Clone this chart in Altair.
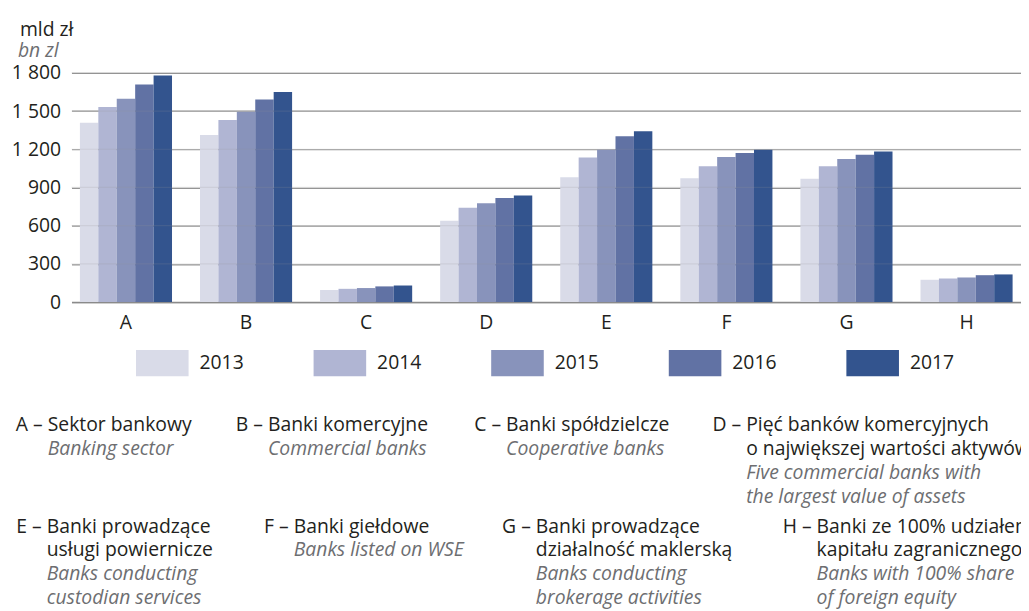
import altair as alt
import pandas as pd

# ---------------- data ----------------
categories = ["A", "B", "C", "D", "E", "F", "G", "H"]
years = ["2013", "2014", "2015", "2016", "2017"]
v2013 = [1408, 1312, 94, 639, 981, 973, 968, 175]
v2014 = [1532, 1429, 104, 741, 1135, 1067, 1067, 185]
v2015 = [1597, 1494, 110, 777, 1197, 1140, 1124, 193]
v2016 = [1709, 1590, 123, 817, 1302, 1171, 1156, 211]
v2017 = [1779, 1649, 130, 837, 1341, 1197, 1182, 217]
y_ticks = [0, 300, 600, 900, 1200, 1500, 1800]
colors = ["#d9dbe8", "#b0b5d3", "#8893bb", "#6172a4", "#33548e"]

unit_pl = "mld zł"
unit_en = "bn zl"

desc_letters = ["A –", "B –", "C –", "D –", "E –", "F –", "G –", "H –"]
desc_pl = [
    ["Sektor bankowy"],
    ["Banki komercyjne"],
    ["Banki spółdzielcze"],
    ["Pięć banków komercyjnych", "o największej wartości aktywów"],
    ["Banki prowadzące", "usługi powiernicze"],
    ["Banki giełdowe"],
    ["Banki prowadzące", "działalność maklerską"],
    ["Banki ze 100% udziałem", "kapitału zagranicznego"],
]
desc_en = [
    ["Banking sector"],
    ["Commercial banks"],
    ["Cooperative banks"],
    ["Five commercial banks with", "the largest value of assets"],
    ["Banks conducting", "custodian services"],
    ["Banks listed on WSE"],
    ["Banks conducting", "brokerage activities"],
    ["Banks with 100% share", "of foreign equity"],
]

# ---------------- layout (page pixels) ----------------
ORIGIN_X, ORIGIN_Y = 72, 70.7
desc_x = [48, 270, 510, 752, 47, 296, 540, 823]
desc_row_y = [426, 426, 426, 426, 528, 528, 528, 528]
LINE_H = 24
FONT = "Open Sans"
FS = 19.5
BLACK = "#231f20"
GREY = "#6d6e71"
GRID = "#959595"

# ---------------- tables ----------------
vals = [v2013, v2014, v2015, v2016, v2017]
rows = []
for yi, y in enumerate(years):
    for ci, c in enumerate(categories):
        rows.append({"category": c, "year": y, "value": vals[yi][ci]})
df = pd.DataFrame(rows)

pl_rows, en_rows, let_rows = [], [], []
for i in range(len(categories)):
    x = desc_x[i] - ORIGIN_X
    y0 = desc_row_y[i] - ORIGIN_Y
    let_rows.append({"t": desc_letters[i], "px": x - 5, "py": y0})
    k = 0
    for line in desc_pl[i]:
        pl_rows.append({"t": line, "px": x, "py": y0 + k * LINE_H})
        k += 1
    for line in desc_en[i]:
        en_rows.append({"t": line, "px": x, "py": y0 + k * LINE_H})
        k += 1
unit_rows = [{"t": unit_pl, "px": 20 - ORIGIN_X, "py": 28 - ORIGIN_Y}]
unit_rows2 = [{"t": unit_en, "px": 18 - ORIGIN_X, "py": 49 - ORIGIN_Y}]

# ---------------- chart ----------------
y_axis = alt.Axis(title=None, values=y_ticks, ticks=False, domain=False,
                  labelPadding=11, labelFontSize=FS, labelColor=BLACK,
                  labelFont=FONT,
                  labelExpr="replace(format(datum.value, ','), ',', ' ')",
                  gridColor=GRID, gridWidth=1.2)
y_scale = alt.Scale(domain=[0, 1800], nice=False)

bars = alt.Chart(df).mark_bar().encode(
    x=alt.X("category:N", sort=categories,
            scale=alt.Scale(paddingInner=0.233, paddingOuter=0.07),
            axis=alt.Axis(title=None, labelAngle=0, ticks=False, labelPadding=12,
                          labelFontSize=FS, labelColor=BLACK, labelFont=FONT,
                          domain=True, domainColor="#8a8a8a", domainWidth=1.5,
                          grid=False)),
    xOffset=alt.XOffset("year:N", sort=years,
                        scale=alt.Scale(paddingInner=0, paddingOuter=0)),
    y=alt.Y("value:Q", scale=y_scale, axis=y_axis),
    color=alt.Color("year:N", sort=years,
                    scale=alt.Scale(domain=years, range=colors),
                    legend=alt.Legend(title=None, orient="none", legendX=65, legendY=266,
                                      direction="horizontal", columns=5,
                                      symbolType="M-1,-0.5H1V0.5H-1Z", symbolSize=2809,
                                      symbolStrokeWidth=0, symbolOpacity=1,
                                      labelFontSize=FS, labelFont=FONT, labelColor=BLACK,
                                      labelOffset=11, columnPadding=70, padding=0)),
)

# faint continuation of the gridlines across the bars
grid_over = alt.Chart(pd.DataFrame({"value": y_ticks[1:]})).mark_rule(
    color=GRID, opacity=0.18, strokeWidth=1.2
).encode(y=alt.Y("value:Q", scale=y_scale, axis=y_axis))


def text_layer(data, color, italic=False, align="left"):
    return alt.Chart(pd.DataFrame(data)).mark_text(
        align=align, baseline="middle", font=FONT, fontSize=FS, color=color,
        fontStyle="italic" if italic else "normal",
    ).encode(
        x=alt.X("px:Q", scale=None, axis=None),
        y=alt.Y("py:Q", scale=None, axis=None),
        text="t:N",
    )


layers = [
    bars,
    grid_over,
    text_layer(let_rows, BLACK, align="right"),
    text_layer(pl_rows, BLACK),
    text_layer(en_rows, GREY, italic=True),
    text_layer(unit_rows, BLACK),
    text_layer(unit_rows2, GREY, italic=True),
]

chart = alt.layer(*layers).properties(
    width=957, height=231,
    autosize=alt.AutoSizeParams(type="none"),
    padding={"left": 64, "top": 63, "right": 0, "bottom": 309},
    background="white",
).configure_view(stroke=None)

chart.save("out.html", embed_options={"renderer": "svg", "actions": False})
